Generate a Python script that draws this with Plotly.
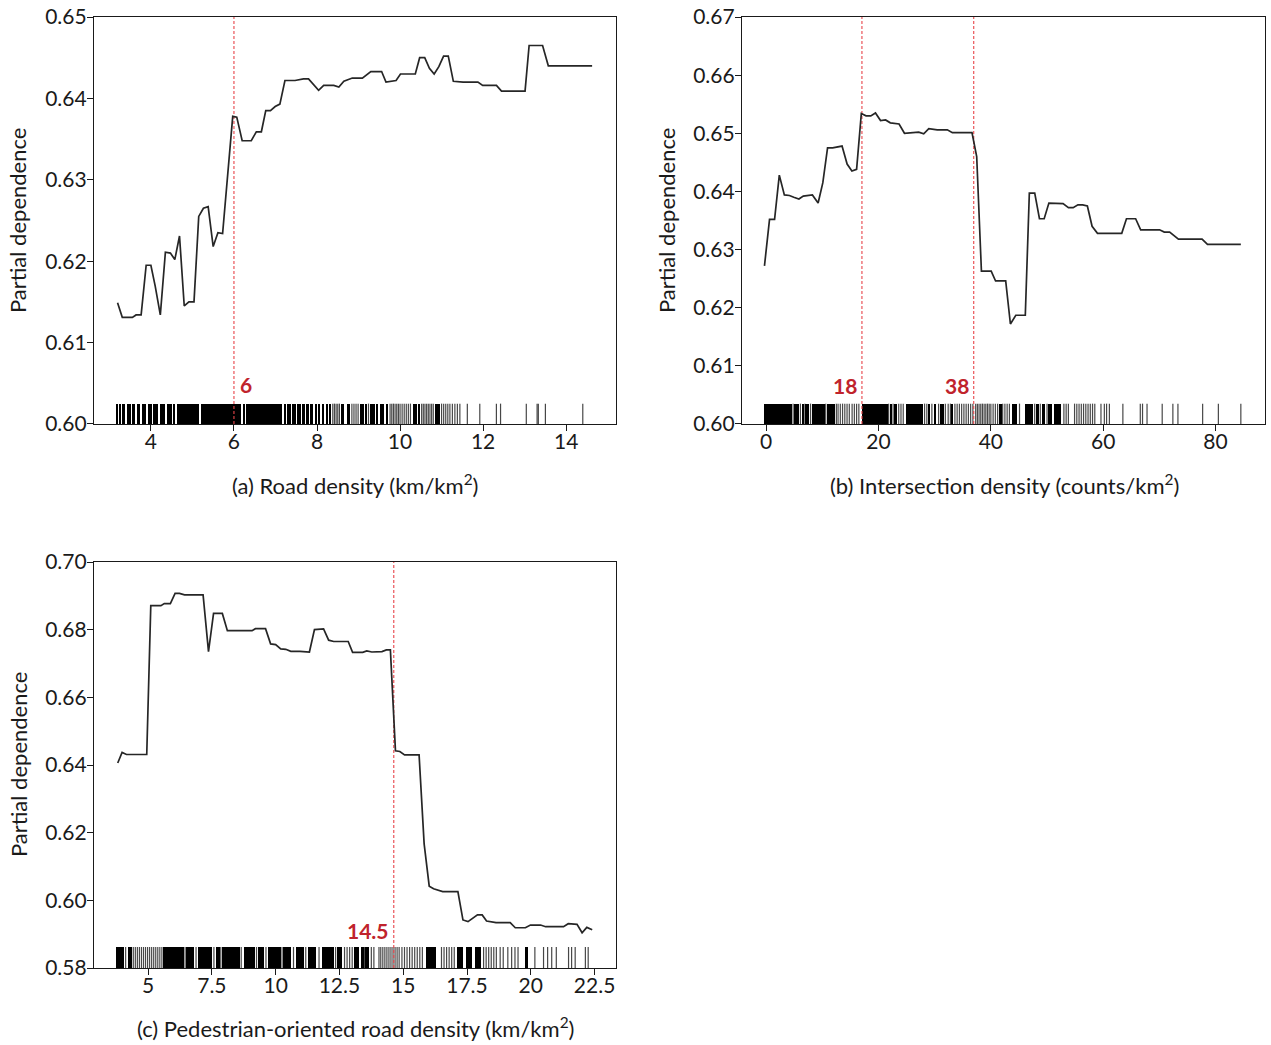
import plotly.graph_objects as go

# ---------------- data ----------------
# (a) Road density
a_x = [3.197, 3.311, 3.554, 3.643, 3.765, 3.886, 4.0, 4.105, 4.227, 4.349, 4.470, 4.576, 4.689, 4.803, 4.916, 5.038,
       5.152, 5.265, 5.379, 5.500, 5.614, 5.727, 5.971, 6.068, 6.198, 6.417, 6.539, 6.660, 6.766, 6.879, 6.993, 7.106,
       7.228, 7.471, 7.674, 7.796, 8.039, 8.161, 8.404, 8.526, 8.647, 8.850, 9.093, 9.296, 9.556, 9.661, 9.904, 10.010,
       10.367, 10.472, 10.594, 10.707, 10.821, 10.934, 11.048, 11.161, 11.283, 11.518, 11.875, 11.989, 12.321, 12.443,
       13.010, 13.108, 13.432, 13.570, 14.625]
a_y = [0.6149, 0.6131, 0.6131, 0.6134, 0.6134, 0.6195, 0.6195, 0.6169, 0.6134, 0.6211, 0.6210, 0.6202, 0.6231, 0.6145,
       0.6150, 0.6150, 0.6255, 0.6265, 0.6267, 0.6218, 0.6235, 0.6234, 0.6378, 0.6377, 0.6348, 0.6348, 0.6359, 0.6359,
       0.6385, 0.6385, 0.6390, 0.6393, 0.6422, 0.6422, 0.6424, 0.6424, 0.6410, 0.6416, 0.6416, 0.6414, 0.6421, 0.6425,
       0.6425, 0.6433, 0.6433, 0.6420, 0.6422, 0.6430, 0.6430, 0.6450, 0.6450, 0.6437, 0.6430, 0.6439, 0.6452, 0.6452,
       0.6421, 0.6420, 0.6420, 0.6416, 0.6416, 0.6409, 0.6409, 0.6465, 0.6465, 0.6440, 0.6440]
a_rug_blocks = [(3.18, 3.21), (3.23, 3.28), (3.31, 3.38), (3.42, 3.52), (3.55, 3.62), (3.66, 3.74), (3.78, 3.89),
                (3.92, 4.02), (4.06, 4.18), (4.22, 4.34), (4.38, 4.50), (4.54, 4.58), (4.62, 5.16), (5.20, 6.18),
                (6.22, 6.26), (6.30, 7.16), (7.20, 7.25), (7.28, 7.37), (7.40, 7.50), (7.53, 7.62), (7.65, 7.70),
                (7.73, 7.80), (7.84, 7.90), (7.94, 8.00), (8.04, 8.08), (8.12, 8.18), (8.22, 8.26), (8.30, 8.34),
                (8.58, 8.66), (8.72, 8.80), (9.04, 9.12), (9.15, 9.20), (9.28, 9.40), (9.43, 9.48), (9.52, 9.62),
                (9.65, 9.72), (10.32, 10.40), (10.43, 10.48), (10.84, 10.96)]
a_rug_ticks = [8.38, 8.42, 8.46, 8.50, 8.54, 8.84, 8.89, 8.94, 8.99, 9.24, 9.76, 9.80, 9.84, 9.88, 9.92, 9.96, 10.00,
               10.05, 10.10, 10.15, 10.20, 10.25, 10.52, 10.56, 10.60, 10.64, 10.68, 10.72, 10.76, 10.80, 11.00,
               11.05, 11.10, 11.15, 11.20, 11.26, 11.32, 11.38, 11.44, 11.62, 11.92, 12.32, 12.42, 13.04, 13.30,
               13.33, 13.50, 14.40]
a_thresholds = [6.0]
a_threshold_labels = ["6"]

# (b) Intersection density
b_x = [-0.30, 0.60, 1.50, 2.34, 3.24, 4.14, 4.92, 5.83, 6.61, 8.23, 9.25, 10.09, 10.93, 11.83, 13.51, 14.41, 15.26,
       16.10, 16.94, 17.78, 18.62, 19.46, 20.36, 21.26, 22.10, 23.66, 24.62, 25.47, 27.15, 28.05, 28.95, 30.45, 32.25,
       33.15, 36.64, 37.48, 38.32, 40.06, 40.84, 42.64, 43.48, 44.44, 46.13, 46.85, 47.81, 48.65, 49.49, 50.33, 52.85,
       53.81, 54.65, 55.50, 56.34, 57.18, 58.02, 58.98, 63.30, 64.14, 65.77, 66.67, 70.03, 70.87, 71.83, 73.39, 77.60,
       78.56, 84.50]
b_y = [0.6272, 0.6352, 0.6352, 0.6428, 0.6394, 0.6393, 0.6390, 0.6387, 0.6392, 0.6394, 0.6380, 0.6415, 0.6475, 0.6475,
       0.6478, 0.6447, 0.6435, 0.6438, 0.6534, 0.6530, 0.6530, 0.6535, 0.6522, 0.6523, 0.6518, 0.6516, 0.6500, 0.6501,
       0.6502, 0.6499, 0.6508, 0.6506, 0.6506, 0.6501, 0.6501, 0.6460, 0.6263, 0.6263, 0.6246, 0.6246, 0.6172, 0.6187,
       0.6187, 0.6397, 0.6397, 0.6353, 0.6353, 0.6380, 0.6379, 0.6372, 0.6372, 0.6377, 0.6377, 0.6375, 0.6340, 0.6328,
       0.6328, 0.6353, 0.6353, 0.6334, 0.6334, 0.6330, 0.6330, 0.6318, 0.6318, 0.6309, 0.6309]
b_rug_blocks = [(-0.3, 4.6), (5.0, 5.9), (6.3, 6.7), (7.0, 7.7), (8.1, 10.4), (10.9, 12.3), (17.0, 21.6), (22.0, 22.4),
                (22.8, 23.3), (24.9, 27.9), (28.9, 29.2), (29.9, 30.3), (31.0, 31.6), (33.0, 33.3), (41.6, 41.9),
                (43.7, 44.6), (46.1, 47.5), (48.1, 48.5), (49.1, 49.6), (50.2, 50.9), (51.3, 52.5)]
b_rug_ticks = [4.8, 6.1, 6.9, 7.9, 10.6, 12.5, 12.8, 13.2, 13.6, 14.0, 14.4, 14.8, 15.3, 15.7, 16.1, 16.5, 21.8, 22.6,
               23.6, 24.0, 24.4, 28.2, 28.6, 29.5, 30.7, 31.9, 32.4, 32.8, 33.6, 34.0, 34.4, 34.8, 35.2,
               35.6, 36.0, 36.4, 36.8, 37.3, 37.6, 37.9, 38.2, 38.5, 38.8, 39.1, 39.4, 39.7, 40.0, 40.4, 40.8, 41.2,
               42.1, 42.5, 42.9, 43.3, 45.1, 47.8, 48.8, 50.0, 53.0, 53.4, 53.8, 54.9, 55.3, 55.7, 56.1, 56.5, 56.9,
               57.3, 57.7, 58.1, 58.5, 59.6, 60.2, 60.6, 61.1, 63.5, 66.6, 67.0, 67.8, 70.5, 72.4, 73.3, 77.7, 80.5,
               84.5]
b_thresholds = [17.05, 36.95]
b_threshold_labels = ["18", "38"]

# (c) Pedestrian-oriented road density
c_x = [3.810, 3.981, 4.153, 4.947, 5.106, 5.503, 5.635, 5.873, 6.058, 6.230, 6.429, 7.156, 7.368, 7.566, 7.910, 8.108,
       9.074, 9.206, 9.603, 9.802, 10.000, 10.198, 10.397, 10.595, 10.952, 11.323, 11.521, 11.878, 12.077, 12.275,
       12.844, 13.016, 13.413, 13.571, 13.770, 14.167, 14.339, 14.497, 14.696, 14.868, 15.053, 15.622, 15.820, 16.019,
       16.190, 16.548, 17.143, 17.341, 17.540, 17.910, 18.095, 18.267, 18.638, 19.193, 19.392, 19.788, 19.987, 20.384,
       20.582, 21.283, 21.468, 21.812, 22.011, 22.196, 22.407]
c_y = [0.6406, 0.6437, 0.6431, 0.6431, 0.6871, 0.6871, 0.6877, 0.6877, 0.6907, 0.6907, 0.6903, 0.6903, 0.6735, 0.6848,
       0.6848, 0.6797, 0.6797, 0.6803, 0.6803, 0.6758, 0.6756, 0.6743, 0.6742, 0.6736, 0.6736, 0.6734, 0.6800, 0.6802,
       0.6769, 0.6765, 0.6765, 0.6733, 0.6733, 0.6737, 0.6734, 0.6735, 0.6740, 0.6740, 0.6442, 0.6440, 0.6430, 0.6430,
       0.6167, 0.6042, 0.6034, 0.6026, 0.6026, 0.5942, 0.5937, 0.5957, 0.5957, 0.5939, 0.5934, 0.5934, 0.5919, 0.5919,
       0.5927, 0.5927, 0.5922, 0.5922, 0.5931, 0.5929, 0.5904, 0.5920, 0.5913]
c_rug_blocks = [(3.75, 4.05), (4.2, 4.35), (5.6, 6.4), (6.5, 6.8), (6.95, 7.5), (7.65, 7.8), (7.9, 8.6), (8.75, 9.2),
                (9.3, 9.55), (9.7, 10.2), (10.3, 10.6), (10.8, 11.1), (11.25, 11.6), (11.8, 12.3), (12.4, 12.6),
                (13.07, 13.27), (13.35, 13.45), (13.52, 13.66), (15.9, 16.3), (17.1, 17.35), (17.45, 17.7),
                (17.8, 18.05), (19.77, 19.9)]
c_rug_ticks = [4.12, 4.42, 4.5, 4.58, 4.66, 4.74, 4.82, 4.9, 4.98, 5.06, 5.14, 5.22, 5.3, 5.38, 5.46, 5.54, 6.45, 6.88,
               7.58, 7.85, 8.65, 9.25, 9.62, 10.25, 10.7, 11.18, 11.7, 12.35, 12.7, 12.8, 12.9, 13.0, 13.48, 13.75,
               13.85, 14.05, 14.12, 14.2, 14.28, 14.36, 14.44, 14.52, 14.6, 14.68, 14.76, 14.84, 14.95, 15.05, 15.15,
               15.25, 15.35, 15.45, 15.55, 15.65, 15.75, 16.5, 16.6, 16.7, 16.8, 16.9, 17.0, 18.15, 18.25, 18.35,
               18.45, 18.55, 18.65, 18.8, 18.92, 19.1, 19.25, 19.38, 19.5, 20.16, 20.5, 20.66, 20.82, 21.0, 21.48,
               21.6, 21.74, 22.14, 22.25]
c_thresholds = [14.63]
c_threshold_labels = ["14.5"]

titles = ["(a) Road density (km/km<sup>2</sup>)",
          "(b) Intersection density (counts/km<sup>2</sup>)",
          "(c) Pedestrian-oriented road density (km/km<sup>2</sup>)"]
y_title = "Partial dependence"

a_yticks = [0.60, 0.61, 0.62, 0.63, 0.64, 0.65]
b_yticks = [0.60, 0.61, 0.62, 0.63, 0.64, 0.65, 0.66, 0.67]
c_yticks = [0.58, 0.60, 0.62, 0.64, 0.66, 0.68, 0.70]
a_xticks = [4, 6, 8, 10, 12, 14]
b_xticks = [0, 20, 40, 60, 80]
c_xticks = [5, 7.5, 10, 12.5, 15, 17.5, 20, 22.5]
c_xticklabels = ["5", "7.5", "10", "12.5", "15", "17.5", "20", "22.5"]

# ---------------- figure ----------------
W, H = 1271, 1045
FONT = "Lato, 'Open Sans', sans-serif"
RED_LINE = "#e8454a"
RED_TEXT = "#c0232c"
INK = "#1a1a1a"

def px_x(p):
    return p / W

def px_y(p):
    return 1 - p / H

panels = [
    dict(x=a_x, y=a_y, blocks=a_rug_blocks, ticks=a_rug_ticks, thr=a_thresholds, thr_lab=a_threshold_labels,
         xr=[2.63, 15.2], yr=[0.60, 0.65], rug_top=0.6025, xt=a_xticks, xtl=[str(v) for v in a_xticks],
         yt=a_yticks, dom_x=[px_x(94), px_x(616)], dom_y=[px_y(424), px_y(17)], lab_side="right", lab_y=0.6048,
         title_pos=(px_x(355), px_y(484)), ytitle_pos=(px_x(18), px_y(221))),
    dict(x=b_x, y=b_y, blocks=b_rug_blocks, ticks=b_rug_ticks, thr=b_thresholds, thr_lab=b_threshold_labels,
         xr=[-4.3, 88.8], yr=[0.60, 0.67], rug_top=0.6035, xt=b_xticks, xtl=[str(v) for v in b_xticks],
         yt=b_yticks, dom_x=[px_x(742), px_x(1265)], dom_y=[px_y(424), px_y(17)], lab_side="left", lab_y=0.6067,
         title_pos=(px_x(1004), px_y(484)), ytitle_pos=(px_x(667), px_y(221))),
    dict(x=c_x, y=c_y, blocks=c_rug_blocks, ticks=c_rug_ticks, thr=c_thresholds, thr_lab=c_threshold_labels,
         xr=[2.88, 23.34], yr=[0.58, 0.70], rug_top=0.5862, xt=c_xticks, xtl=c_xticklabels,
         yt=c_yticks, dom_x=[px_x(94), px_x(616)], dom_y=[px_y(968), px_y(562)], lab_side="left", lab_y=0.5912,
         title_pos=(px_x(355), px_y(1027)), ytitle_pos=(px_x(18), px_y(765))),
]

fig = go.Figure()
annotations = []

for i, p in enumerate(panels):
    n = "" if i == 0 else str(i + 1)
    xa, ya = "x" + n, "y" + n
    y0 = p["yr"][0]
    h = p["rug_top"] - y0
    # rug: solid blocks
    fig.add_trace(go.Bar(
        x=[(s + e) / 2 for s, e in p["blocks"]],
        width=[e - s for s, e in p["blocks"]],
        y=[h] * len(p["blocks"]), base=[y0] * len(p["blocks"]),
        marker=dict(color="#000000", line=dict(width=0)),
        xaxis=xa, yaxis=ya, showlegend=False, hoverinfo="skip"))
    # rug: single ticks
    rx, ry = [], []
    for t in p["ticks"]:
        rx += [t, t, None]
        ry += [y0, p["rug_top"], None]
    fig.add_trace(go.Scatter(x=rx, y=ry, mode="lines", line=dict(color="rgba(0,0,0,0.72)", width=1.2),
                             xaxis=xa, yaxis=ya, showlegend=False, hoverinfo="skip"))
    # threshold lines
    for t, lab in zip(p["thr"], p["thr_lab"]):
        fig.add_trace(go.Scatter(x=[t, t], y=p["yr"], mode="lines",
                                 line=dict(color=RED_LINE, width=1.1, dash="3px,2px"),
                                 xaxis=xa, yaxis=ya, showlegend=False, hoverinfo="skip"))
        annotations.append(dict(x=t, y=p["lab_y"], xref=xa, yref=ya, text="<b>%s</b>" % lab, showarrow=False,
                                xanchor="left" if p["lab_side"] == "right" else "right",
                                xshift=4 if p["lab_side"] == "right" else -3,
                                font=dict(family=FONT, size=21, color=RED_TEXT)))
    # PD curve
    fig.add_trace(go.Scatter(x=p["x"], y=p["y"], mode="lines", line=dict(color="#262626", width=1.7),
                             xaxis=xa, yaxis=ya, showlegend=False))
    axis_common = dict(showline=True, mirror=True, linecolor=INK, linewidth=1.3, ticks="outside",
                       ticklen=6, tickwidth=1.3, tickcolor=INK, showgrid=False, zeroline=False,
                       automargin=False, tickfont=dict(family=FONT, size=21, color=INK))
    fig.layout["xaxis" + n] = dict(axis_common, domain=p["dom_x"], range=p["xr"], tickvals=p["xt"],
                                   ticktext=p["xtl"], anchor=ya, ticklabelstandoff=-7)
    fig.layout["yaxis" + n] = dict(axis_common, domain=p["dom_y"], range=[p["yr"][0] - 1e-6, p["yr"][1] + 1e-6],
                                   tickvals=p["yt"], ticktext=["%.2f" % v for v in p["yt"]], anchor=xa,
                                   ticklabelstandoff=-4)
    annotations.append(dict(x=p["title_pos"][0], y=p["title_pos"][1], xref="paper", yref="paper",
                            text=titles[i], showarrow=False, xanchor="center", yanchor="middle",
                            font=dict(family=FONT, size=22, color=INK)))
    annotations.append(dict(x=p["ytitle_pos"][0], y=p["ytitle_pos"][1], xref="paper", yref="paper",
                            text=y_title, showarrow=False, textangle=-90, xanchor="center", yanchor="middle",
                            font=dict(family=FONT, size=22, color=INK)))

fig.update_layout(template="none", width=W, height=H, margin=dict(l=0, r=0, t=0, b=0, pad=0),
                  plot_bgcolor="white", paper_bgcolor="white", annotations=annotations,
                  barmode="overlay", bargap=0, showlegend=False)

fig.write_html("out.html", config={"displayModeBar": False},
               post_script="document.body.style.margin='0';")
